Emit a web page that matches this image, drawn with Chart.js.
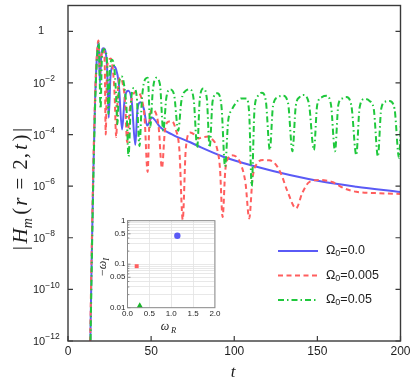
<!DOCTYPE html>
<html>
<head>
<meta charset="utf-8">
<script src="https://cdn.jsdelivr.net/npm/chart.js@4.4.0/dist/chart.umd.min.js"></script>
<style>
  html, body { margin: 0; padding: 0; background: #fff; }
  #wrap { position: relative; width: 415px; height: 381px; }
  #main { position: absolute; left: 0; top: 0; }
  #inset { position: absolute; left: 96px; top: 212px; }
</style>
</head>
<body>
<div id="wrap">
  <canvas id="main" width="415" height="381"></canvas>
  <canvas id="inset" width="126" height="126"></canvas>
</div>
<script>
// curves: [t, log10 |H_m|]
const blueCurve = [
  [13.2,-13],[14.2,-9],[15.2,-5.6],[16.2,-2.9],[17.2,-1.2],[18.4,-0.4],[19.2,-2.0],[20.0,-0.95],
  [21.2,-0.66],[22.3,-0.72],[23.5,-1.4],[24.5,-3.35],[25.6,-1.7],[27.3,-1.35],[28.8,-1.45],[30.5,-2.0],
  [32.5,-3.8],[34.2,-2.55],[36.3,-2.3],[38.3,-2.7],[40.5,-4.4],[41.8,-3.0],[43.5,-2.75],[45.6,-3.0],
  [47.6,-3.65],[50.5,-3.34],[53,-3.5],[55.5,-3.72],[63.4,-4.02],[73.5,-4.3],[80,-4.5],[93.4,-4.86],
  [113.5,-5.25],[133.4,-5.57],[153.4,-5.83],[173.4,-6.02],[200,-6.23]
];
const redCurve = [
  [13.1,-13],[14.1,-9],[15.1,-5.6],[16.1,-2.9],[17.1,-1.2],[18.3,-0.36],[19.3,-1.6],[20.2,-0.9],
  [21.3,-0.68],[22.1,-1.3],[22.7,-4.0],[23.4,-1.6],[24.6,-1.1],[25.8,-1.05],[27.0,-1.5],[28.0,-2.4],
  [29.0,-4.1],[30.0,-2.3],[31.5,-1.8],[33.0,-2.05],[34.3,-2.7],[35.6,-4.3],[37.0,-3.1],[38.7,-2.55],
  [40.5,-2.35],[42.5,-2.38],[44.2,-2.6],[46.0,-3.3],[47.9,-5.45],[49.0,-3.5],[50.5,-3.05],[52.3,-3.1],
  [54.5,-3.7],[56.5,-5.3],[58.3,-3.85],[60.5,-3.5],[62.5,-3.48],[64.8,-3.8],[67.0,-4.6],[69.0,-7.3],
  [70.8,-4.6],[73.5,-3.92],[76.0,-4.0],[78.4,-4.15],[81.2,-4.1],[84.4,-4.08],[87.0,-4.2],[89.5,-4.5],
  [91.4,-5.3],[93.0,-7.2],[94.6,-5.4],[96.5,-4.9],[98.5,-4.8],[101,-4.85],[104,-5.15],[106.8,-5.9],
  [109,-7.25],[111,-5.7],[114,-5.1],[117.4,-4.99],[121,-5.0],[124.4,-5.12],[128,-5.5],[132,-6.2],
  [137.2,-6.86],[141,-6.25],[145,-5.85],[151.4,-5.76],[155,-5.78],[159.4,-5.85],[166,-6.08],
  [173.4,-6.22],[185,-6.27],[200,-6.3]
];
const greenCurve = [
  [13.3,-13],[14.3,-9],[15.3,-5.6],[16.3,-2.9],[17.3,-1.2],[18.5,-0.45],[19.6,-3.0],[20.4,-1.0],
  [21.6,-0.7],[22.8,-0.8],[23.6,-1.4],[24.3,-3.2],[25.2,-1.5],[26.5,-1.1],[27.8,-1.4],[28.8,-2.3],
  [29.7,-3.6],[30.8,-2.0],[32.3,-1.75],[33.8,-2.1],[35.2,-3.0],[36.4,-4.85],[37.8,-2.8],[39.6,-2.2],
  [41.3,-2.5],[43.0,-4.45],[44.5,-2.6],[46.5,-1.85],[48.0,-1.8],[49.5,-3.7],[51.0,-2.3],[53.0,-1.8],
  [55.3,-2.05],[57.3,-3.85],[59.2,-2.55],[61.5,-2.25],[63.8,-2.45],[66.3,-3.85],[68.2,-2.7],[70.8,-2.3],
  [73.5,-2.25],[75.7,-2.7],[77.7,-4.5],[79.3,-2.6],[81.4,-2.22],[83.5,-2.6],[85.2,-4.5],[87.0,-2.7],
  [89.8,-2.4],[92.3,-2.9],[94.5,-5.25],[96.3,-3.5],[98.5,-3.05],[101.3,-2.75],[104.2,-2.6],[107.2,-2.6],
  [109.0,-3.2],[110.5,-6.0],[112.2,-3.0],[114.3,-2.5],[116.6,-2.38],[119.0,-2.7],[121.4,-4.6],[123.3,-2.9],
  [126.2,-2.55],[129.4,-2.5],[132.4,-2.8],[135.0,-4.65],[137.0,-2.9],[139.3,-2.55],[141.6,-2.47],
  [144.9,-2.8],[147.9,-4.6],[149.9,-2.85],[152.7,-2.55],[155.5,-2.5],[158.2,-2.85],[160.6,-4.65],
  [162.6,-2.85],[165,-2.6],[167.5,-2.55],[170.5,-2.9],[173.4,-4.8],[175.4,-2.95],[178.4,-2.62],
  [181.4,-2.7],[183.9,-3.0],[186.4,-4.85],[188.4,-3.0],[191,-2.72],[193.4,-2.7],[196.4,-3.0],
  [199.1,-4.9],[200.5,-3.2]
];
const seriesNames = ["0.0", "0.005", "0.05"];   // Ω0 values

const xTicks = [0, 50, 100, 150, 200];
const xTickLabels = ["0", "50", "100", "150", "200"];
const yTickExps = [0, -2, -4, -6, -8, -10, -12];

// inset: quasinormal frequencies
const insetOmegaR = [1.14, 0.21, 0.28];
const insetOmegaI = [0.45, 0.09, 0.011];
const insetXTicks = [0, 0.5, 1, 1.5, 2];
const insetYGrid = [0.01,0.02,0.03,0.04,0.05,0.06,0.07,0.08,0.09,0.1,0.2,0.3,0.4,0.5,0.6,0.7,0.8,0.9,1];
const insetYTickVals = [0.01, 0.05, 0.1, 0.5, 1];
const insetYTickLabels = ["0.01", "0.05", "0.1", "0.5", "1"];

(function () {
  const COLORS = {
    blue:  "#5a5af6",
    red:   "#ff5e5e",
    green: "#1fc83c",
    frame: "#3a3a3a",
    text:  "#1e1e1e",
  };
  const SANS = "'Liberation Sans', Arial, sans-serif";
  const SERIF = "'Liberation Serif', 'Times New Roman', serif";

  const toPts = (curve) => curve.map(([t, e]) => ({ x: t, y: Math.pow(10, e) }));

  // draws a list of [text, font, dy, gapAfter] pieces one after another
  function drawRuns(ctx, runs, x, y, gap) {
    runs.forEach(([txt, font, dy, g]) => {
      ctx.font = font;
      ctx.fillText(txt, x, y + (dy || 0));
      x += ctx.measureText(txt).width + (g !== undefined ? g : (gap || 0));
    });
    return x;
  }
  function runsWidth(ctx, runs, gap) {
    let w = 0;
    runs.forEach(([txt, font, dy, g]) => {
      ctx.font = font;
      w += ctx.measureText(txt).width + (g !== undefined ? g : (gap || 0));
    });
    return w;
  }

  /* ── main frame, ticks, labels, legend ── */
  const frameAndLabels = {
    id: "frameAndLabels",
    afterDraw(chart) {
      const { ctx, chartArea: a, scales: { x, y } } = chart;
      ctx.save();
      ctx.strokeStyle = COLORS.frame;
      ctx.lineWidth = 1.4;
      ctx.strokeRect(a.left, a.top, a.right - a.left, a.bottom - a.top);

      ctx.fillStyle = COLORS.text;
      ctx.lineWidth = 1.2;
      // x ticks (inward) + labels
      ctx.textAlign = "center";
      ctx.textBaseline = "middle";
      ctx.font = "12px " + SANS;
      xTicks.forEach((v, i) => {
        const px = x.getPixelForValue(v);
        ctx.beginPath();
        ctx.moveTo(px, a.bottom); ctx.lineTo(px, a.bottom - 5);
        ctx.stroke();
        ctx.fillText(xTickLabels[i], px, a.bottom + 10.5);
      });
      // y ticks (both sides, inward) + labels
      ctx.textAlign = "left";
      yTickExps.forEach((e) => {
        const py = y.getPixelForValue(Math.pow(10, e));
        ctx.beginPath();
        ctx.moveTo(a.left, py); ctx.lineTo(a.left + 5, py);
        ctx.moveTo(a.right, py); ctx.lineTo(a.right - 5, py);
        ctx.stroke();
        if (e === 0) {
          ctx.font = "11px " + SANS;
          ctx.fillText("1", 38, py);
        } else {
          drawRuns(ctx, [["10", "11px " + SANS, 1], ["\u2212" + (-e), "8.5px " + SANS, -4]], 33, py);
        }
      });

      // axis titles
      ctx.textBaseline = "alphabetic";
      ctx.font = "italic 17px " + SERIF;
      ctx.textAlign = "center";
      ctx.fillText("t", 233, 377);

      const it = "italic 21px " + SERIF, up = "21px " + SERIF;
      const yTitle = [["|", up, 0, 2.5], ["H", it, 0, 0], ["m", "italic 14px " + SERIF, 4.5, 3.5], ["(", up, 0, 2],
                      ["r", it, 0, 8], ["=", up, 0, 8], ["2", up, 0, 1], [",", up, 0, 3], ["t", it, 0, 2.5],
                      [")", up, 0, 2.5], ["|", up, 0, 0]];
      ctx.save();
      ctx.translate(27, 189);
      ctx.rotate(-Math.PI / 2);
      ctx.textAlign = "left";
      drawRuns(ctx, yTitle, -runsWidth(ctx, yTitle) / 2, 0);
      ctx.restore();

      // legend inside the plot
      const styles = [
        { color: COLORS.blue, dash: [] },
        { color: COLORS.red, dash: [5, 3.5] },
        { color: COLORS.green, dash: [6, 3, 1.5, 3] },
      ];
      const rows = [251, 275.5, 300];
      ctx.textAlign = "left";
      ctx.textBaseline = "middle";
      seriesNames.forEach((name, i) => {
        ctx.strokeStyle = styles[i].color;
        ctx.lineWidth = 2;
        ctx.setLineDash(styles[i].dash);
        ctx.beginPath();
        ctx.moveTo(278, rows[i]); ctx.lineTo(318, rows[i]);
        ctx.stroke();
        ctx.setLineDash([]);
        ctx.fillStyle = COLORS.text;
        drawRuns(ctx, [["\u03A9", "12.5px " + SANS, 0], ["0", "9px " + SANS, 3], ["=" + name, "12.5px " + SANS, 0]], 326, rows[i]);
      });
      ctx.restore();
    },
  };

  new Chart(document.getElementById("main"), {
    type: "line",
    data: {
      datasets: [
        { label: "\u03A90=" + seriesNames[0], data: toPts(blueCurve), borderColor: COLORS.blue,
          borderWidth: 2, pointRadius: 0, cubicInterpolationMode: "monotone", order: 2 },
        { label: "\u03A90=" + seriesNames[1], data: toPts(redCurve), borderColor: COLORS.red,
          borderWidth: 2, borderDash: [5, 3.5], pointRadius: 0, cubicInterpolationMode: "monotone", order: 1 },
        { label: "\u03A90=" + seriesNames[2], data: toPts(greenCurve), borderColor: COLORS.green,
          borderWidth: 2, borderDash: [6, 3, 1.5, 3], pointRadius: 0, cubicInterpolationMode: "monotone", order: 0 },
      ],
    },
    options: {
      responsive: false,
      animation: false,
      events: [],
      layout: { padding: { left: 0, right: 14.5, top: 5.5, bottom: 0 } },
      plugins: { legend: { display: false }, tooltip: { enabled: false } },
      scales: {
        x: {
          type: "linear", min: 0, max: 200,
          grid: { display: false }, border: { display: false }, ticks: { display: false },
          afterFit: (s) => { s.height = 40; },
        },
        y: {
          type: "logarithmic", min: 1e-12, max: 10,
          grid: { display: false }, border: { display: false }, ticks: { display: false },
          afterFit: (s) => { s.width = 68; },
        },
      },
    },
    plugins: [frameAndLabels],
  });

  /* ── inset: -ω_I vs ω_R ── */
  const insetDeco = {
    id: "insetDeco",
    beforeDraw(chart) {
      const { ctx, chartArea: a } = chart;
      ctx.save();
      ctx.fillStyle = "#fff";
      ctx.fillRect(a.left, a.top, a.right - a.left, a.bottom - a.top);
      ctx.restore();
    },
    afterDraw(chart) {
      const { ctx, chartArea: a, scales: { y } } = chart;
      ctx.save();
      ctx.strokeStyle = "#8a8a8a";
      ctx.lineWidth = 1;
      ctx.strokeRect(a.left, a.top, a.right - a.left, a.bottom - a.top);
      insetYGrid.forEach((v) => {
        const py = y.getPixelForValue(v);
        const len = insetYTickVals.includes(v) ? 3 : 1.8;
        ctx.beginPath();
        ctx.moveTo(a.left, py); ctx.lineTo(a.left + len, py);
        ctx.stroke();
      });
      ctx.fillStyle = COLORS.text;
      ctx.textAlign = "center";
      ctx.textBaseline = "alphabetic";
      drawRuns(ctx, [["\u03C9", "italic 12px " + SERIF, 0], ["R", "italic 8.5px " + SERIF, 3]], 69, 118);
      ctx.translate(10, 55);
      ctx.rotate(-Math.PI / 2);
      const lab = [["\u2212", "12px " + SERIF, 0], ["\u03C9", "italic 12px " + SERIF, 0], ["I", "italic 8.5px " + SERIF, 3]];
      ctx.textAlign = "left";
      drawRuns(ctx, lab, -runsWidth(ctx, lab) / 2, 0);
      ctx.restore();
    },
  };

  new Chart(document.getElementById("inset"), {
    type: "scatter",
    data: {
      datasets: [
        { data: [{ x: insetOmegaR[0], y: insetOmegaI[0] }], pointStyle: "circle", pointRadius: 3.2,
          backgroundColor: COLORS.blue, borderWidth: 0 },
        { data: [{ x: insetOmegaR[1], y: insetOmegaI[1] }], pointStyle: "rect", pointRadius: 2.8,
          backgroundColor: COLORS.red, borderWidth: 0 },
        { data: [{ x: insetOmegaR[2], y: insetOmegaI[2] }], pointStyle: "triangle", pointRadius: 3.6,
          backgroundColor: "#19b52a", borderWidth: 0 },
      ],
    },
    options: {
      responsive: false,
      animation: false,
      events: [],
      clip: false,
      layout: { padding: { left: 0, right: 4.5, top: 8.7, bottom: 0 } },
      plugins: { legend: { display: false }, tooltip: { enabled: false } },
      scales: {
        x: {
          type: "linear", min: 0, max: 2,
          afterBuildTicks: (s) => { s.ticks = insetXTicks.map((v) => ({ value: v })); },
          ticks: { callback: (v) => Number(v).toFixed(1), font: { size: 8, family: SANS }, color: COLORS.text,
                   padding: 1.5, maxRotation: 0, autoSkip: false },
          grid: { color: "#e2e2e2", lineWidth: 0.8, drawTicks: false },
          border: { display: false },
          afterFit: (s) => { s.height = 30.3; },
        },
        y: {
          type: "logarithmic", min: 0.01, max: 1,
          afterBuildTicks: (s) => { s.ticks = insetYGrid.map((v) => ({ value: v })); },
          ticks: {
            autoSkip: false, font: { size: 8, family: SANS }, color: COLORS.text, padding: 2,
            callback: (v) => {
              const i = insetYTickVals.indexOf(v);
              return i >= 0 ? insetYTickLabels[i] : "";
            },
          },
          grid: { color: "#e2e2e2", lineWidth: 0.8, drawTicks: false },
          border: { display: false },
          afterFit: (s) => { s.width = 31.5; },
        },
      },
    },
    plugins: [insetDeco],
  });
})();
</script>
</body>
</html>
